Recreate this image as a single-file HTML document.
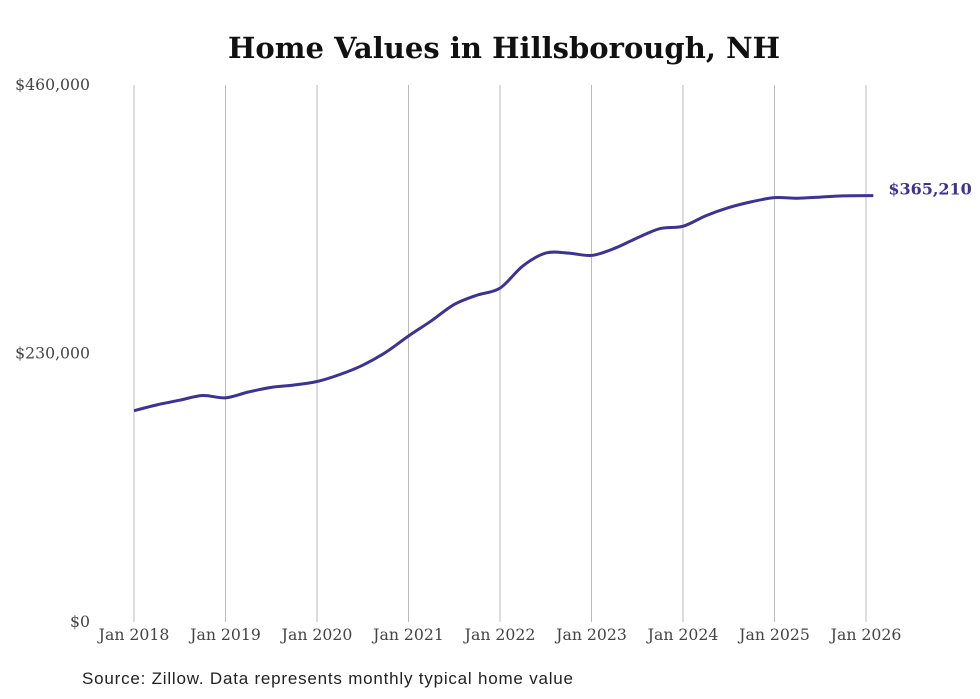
<!DOCTYPE html>
<html><head><meta charset="utf-8"><style>
body{margin:0;background:#fff;}
svg{display:block;}
</style></head><body>
<svg id="chart" width="980" height="699" xmlns="http://www.w3.org/2000/svg">
<text x="504" y="58" text-anchor="middle" font-family="'DejaVu Serif','Liberation Serif',serif" font-weight="bold" font-size="29" textLength="552" fill="#111">Home Values in Hillsborough, NH</text>
<g id="grid"></g><g id="yaxis"></g><g id="xaxis"></g><g id="series"></g>
<text x="82" y="684" font-family="'Liberation Sans',sans-serif" font-size="17" textLength="491" fill="#222">Source: Zillow. Data represents monthly typical home value</text>
</svg>
<script>
const xTickYears=[2018,2019,2020,2021,2022,2023,2024,2025,2026];
const yTicks=[0,230000,460000];
const dates=[2018.0,2018.25,2018.5,2018.75,2019.0,2019.25,2019.5,2019.75,2020.0,2020.25,2020.5,2020.75,2021.0,2021.25,2021.5,2021.75,2022.0,2022.25,2022.5,2022.75,2023.0,2023.25,2023.5,2023.75,2024.0,2024.25,2024.5,2024.75,2025.0,2025.25,2025.5,2025.75,2026.08];
const values=[181000,186000,190000,194000,192000,197000,201000,203000,206000,212000,220000,231000,245000,258000,272000,280000,286000,305000,316000,316000,314000,320000,329000,337000,339000,348000,355000,360000,363500,363000,364000,365000,365210];
const NS="http://www.w3.org/2000/svg";
const X=y=>134+(y-2018)*91.5;
const Y=v=>622-v/460000*537;
function mk(t,a,p){const e=document.createElementNS(NS,t);for(const k in a)e.setAttribute(k,a[k]);p.appendChild(e);return e;}
const grid=document.getElementById('grid'),xa=document.getElementById('xaxis'),ya=document.getElementById('yaxis'),se=document.getElementById('series');
xTickYears.forEach(yr=>{
  const l=mk('line',{x1:X(yr),x2:X(yr),y1:85,y2:622,stroke:'#bbb','stroke-width':1},grid);
  
  
  const t=mk('text',{x:X(yr),y:640,'text-anchor':'middle','font-family':"'DejaVu Serif','Liberation Serif',serif",'font-size':15.7,fill:'#444'},xa);
  t.textContent='Jan '+yr;
  
  
});
yTicks.forEach(v=>{
  const t=mk('text',{x:90,y:Y(v)+5,'text-anchor':'end','font-family':"'DejaVu Serif','Liberation Serif',serif",'font-size':15.7,fill:'#444'},ya);
  t.textContent='$'+v.toLocaleString('en-US');
  
  
});
const pts=dates.map((d,i)=>[X(d),Y(values[i])]);
let d='M'+pts[0][0]+','+pts[0][1];
for(let i=0;i<pts.length-1;i++){
  const p0=pts[Math.max(0,i-1)],p1=pts[i],p2=pts[i+1],p3=pts[Math.min(pts.length-1,i+2)];
  d+=' C'+(p1[0]+(p2[0]-p0[0])/6)+','+(p1[1]+(p2[1]-p0[1])/6)+' '+(p2[0]-(p3[0]-p1[0])/6)+','+(p2[1]-(p3[1]-p1[1])/6)+' '+p2[0]+','+p2[1];
}
const path=mk('path',{d:d,fill:'none',stroke:'#3d3391','stroke-width':3,'stroke-linejoin':'round'},se);


const last=pts[pts.length-1];
const lab=mk('text',{x:last[0]+15,y:last[1]-1,'font-family':"'DejaVu Serif','Liberation Serif',serif",'font-weight':'bold','font-size':16,fill:'#3d3391'},se);
lab.textContent='$'+values[values.length-1].toLocaleString('en-US');


</script>
</body></html>
